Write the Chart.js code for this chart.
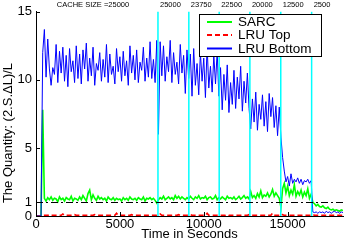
<!DOCTYPE html>
<html>
<head>
<meta charset="utf-8">
<script src="https://cdn.jsdelivr.net/npm/chart.js@4.4.1/dist/chart.umd.min.js"></script>
<style>
    html, body { margin: 0; padding: 0; background: #fff; }
    canvas { display: block; }
</style>
</head>
<body>
<canvas id="quantityChart" width="346" height="243"></canvas>
<script>
// one sample every 100 seconds, starting at t = 0
const sampleStep = 100;

// SARC
const sarc = [
    0, 0, 0, 0, 7.8, 1.3, 1.1, 1.35, 1.2, 1.4,
    1.15, 1.3, 1.25, 1.05, 1.4, 1.2, 1.3, 1.1, 1.35, 1.25,
    1.2, 1.45, 1.1, 1.3, 1.25, 1.15, 1.4, 1.2, 1.5, 1.3,
    1.1, 1.65, 1.9, 1.2, 1.55, 1.3, 1.15, 1.45, 1.25, 1.35,
    1.2, 1.3, 1.1, 1.4, 1.25, 1.2, 1.35, 1.15, 1.3, 1.2,
    1.25, 1.1, 1.35, 1.2, 1.3, 1.15, 1.4, 1.25, 1.2, 1.3,
    1.15, 1.35, 1.25, 1.2, 1.4, 1.1, 1.3, 1.25, 1.35, 1.2,
    1.3, 1.15, 0.95, 1.2, 1.35, 1.25, 1.45, 1.2, 1.3, 1.4,
    1.25, 1.35, 1.2, 1.5, 1.3, 1.45, 1.25, 1.4, 1.3, 1.2,
    1.35, 1.25, 1.45, 1.3, 1.2, 1.4, 1.3, 1.5, 1.25, 1.35,
    1.3, 1.45, 1.2, 1.35, 1.4, 1.25, 1.3, 1.5, 1.2, 1.35,
    1.25, 1.4, 1.3, 1.2, 1.45, 1.3, 1.35, 1.25, 1.4, 1.2,
    1.3, 1.45, 1.25, 1.35, 1.5, 1.3, 1.4, 1.25, 1.8, 1.35,
    1.5, 1.3, 1.65, 1.4, 1.85, 1.35, 1.55, 1.45, 1.7, 1.4,
    1.6, 1.95, 1.45, 1.7, 1.5, 1.3, 0.65, 2.0, 2.4, 1.7,
    2.2, 1.5, 1.9, 1.6, 2.3, 1.45, 1.8, 1.55, 1.9, 1.4,
    1.75, 1.5, 2.0, 1.3, 1.6, 1.0, 0.9, 0.75, 0.85, 0.7,
    0.65, 0.75, 0.6, 0.55, 0.65, 0.5, 0.45, 0.5, 0.4, 0.45,
    0.4, 0.35, 0.45, 0.4
];

// LRU Top
const lruTop = [
    0, 0, 0, 0, 0.05, 0.05, 0.05, 0.05, 0.1, 0.05,
    0.05, 0.05, 0.05, 0.05, 0.05, 0.05, 0.15, 0.05, 0.05, 0.05,
    0.05, 0.05, 0.05, 0.1, 0.05, 0.05, 0.05, 0.05, 0.05, 0.05,
    0.05, 0.05, 0.05, 0.05, 0.05, 0.1, 0.05, 0.05, 0.05, 0.05,
    0.05, 0.05, 0.05, 0.05, 0.05, 0.05, 0.05, 0.05, 0.2, 0.05,
    0.05, 0.05, 0.05, 0.05, 0.05, 0.05, 0.05, 0.1, 0.05, 0.05,
    0.05, 0.05, 0.05, 0.05, 0.05, 0.05, 0.05, 0.05, 0.05, 0.05,
    0.05, 0.05, 0.05, 0.1, 0.15, 0.05, 0.05, 0.05, 0.05, 0.05,
    0.05, 0.05, 0.05, 0.05, 0.05, 0.1, 0.05, 0.05, 0.05, 0.05,
    0.05, 0.05, 0.1, 0.05, 0.05, 0.05, 0.05, 0.05, 0.05, 0.05,
    0.05, 0.05, 0.2, 0.05, 0.05, 0.05, 0.05, 0.05, 0.05, 0.05,
    0.05, 0.05, 0.05, 0.05, 0.1, 0.05, 0.05, 0.05, 0.05, 0.05,
    0.05, 0.05, 0.05, 0.05, 0.05, 0.05, 0.05, 0.1, 0.05, 0.05,
    0.05, 0.05, 0.05, 0.05, 0.05, 0.05, 0.05, 0.05, 0.05, 0.05,
    0.05, 0.2, 0.05, 0.05, 0.05, 0.05, 0.15, 0.1, 0.05, 0.05,
    0.05, 0.05, 0.05, 0.05, 0.05, 0.05, 0.05, 0.05, 0.05, 0.05,
    0.05, 0.05, 0.05, 0.05, 0.05, 0.1, 0.05, 0.05, 0.05, 0.05,
    0.05, 0.05, 0.05, 0.05, 0.05, 0.05, 0.05, 0.05, 0.05, 0.05,
    0.05, 0.05, 0.05, 0.05
];

// LRU Bottom
const lruBottom = [
    0, 0, 0, 0, 12.0, 13.7, 10.2, 13.0, 10.8, 9.6,
    10.9, 10.4, 12.6, 9.8, 12.1, 10.5, 12.4, 9.9, 11.8, 9.5,
    12.3, 10.6, 11.4, 9.8, 12.5, 10.1, 11.9, 9.7, 12.2, 10.8,
    12.7, 9.9, 11.6, 10.3, 12.4, 9.6, 11.2, 10.7, 12.0, 9.9,
    11.5, 10.2, 12.6, 9.8, 11.9, 10.4, 11.0, 9.7, 12.3, 10.6,
    11.7, 9.9, 12.1, 10.3, 11.4, 9.6, 12.5, 10.5, 11.8, 10.0,
    12.2, 9.8, 11.3, 10.7, 12.4, 9.9, 11.6, 10.2, 12.8, 10.1,
    11.5, 9.8, 12.9, 6.0, 12.8, 10.3, 12.5, 9.9, 11.7, 10.6,
    12.9, 9.8, 12.0, 10.4, 11.3, 9.7, 12.6, 10.5, 11.8, 9.0,
    12.2, 10.1, 11.9, 8.8, 12.3, 9.6, 11.2, 8.9, 12.0, 9.9,
    11.6, 8.7, 12.5, 9.4, 11.0, 9.1, 11.8, 9.7, 12.1, 8.8,
    10.9, 7.8, 10.4, 8.5, 11.1, 7.6, 9.8, 8.2, 10.7, 7.9,
    10.2, 8.6, 11.0, 7.7, 9.9, 8.3, 10.5, 7.9, 6.4, 8.6,
    6.9, 9.1, 6.3, 8.2, 7.1, 8.9, 6.6, 8.4, 6.2, 9.0,
    7.3, 8.7, 6.5, 8.1, 5.9, 8.0, 5.8, 4.3, 3.3, 2.5,
    2.9, 2.2, 3.1, 2.4, 2.7, 2.5, 2.8, 2.4, 2.7, 2.3,
    2.6, 2.5, 2.7, 2.4, 2.6, 0.3, 0.25, 0.3, 0.2, 0.3,
    0.25, 0.3, 0.2, 0.35, 0.25, 0.3, 0.2, 0.3, 0.35, 0.25,
    0.3, 0.2, 0.3, 0.25
];

// times where the cache size changes, and the size written above each line
const cacheChangeTimes = [7270, 9110, 10920, 12750, 14590, 16430];
const cacheSizes = ['25000', '23750', '22500', '20000', '12500', '2500'];
const startLabel = 'CACHE SIZE =25000';

const xTicks = [0, 5000, 10000, 15000];
const yTicks = [0, 1, 5, 10, 15];
const threshold = 1;

const FONT = '"Liberation Sans", Arial, Helvetica, sans-serif';

function toPoints(values) {
    return values.map((v, i) => ({ x: i * sampleStep, y: v }));
}

const overlay = {
    id: 'overlay',
    afterDatasetsDraw(chart) {
        const { ctx, chartArea: area, scales: { x, y } } = chart;
        ctx.save();

        // cache size change markers
        ctx.strokeStyle = '#00ffff';
        ctx.lineWidth = 1.5;
        cacheChangeTimes.forEach(t => {
            const px = x.getPixelForValue(t);
            ctx.beginPath();
            ctx.moveTo(px, area.top);
            ctx.lineTo(px, area.bottom);
            ctx.stroke();
        });

        // dash-dot line at 1
        const py = Math.round(y.getPixelForValue(threshold)) + 0.5;
        ctx.strokeStyle = '#000';
        ctx.lineWidth = 1;
        ctx.setLineDash([7, 3, 2, 3]);
        ctx.beginPath();
        ctx.moveTo(area.left, py);
        ctx.lineTo(area.right, py);
        ctx.stroke();
        ctx.setLineDash([]);

        // inward tick marks
        yTicks.forEach(v => {
            const ty = Math.round(y.getPixelForValue(v)) + 0.5;
            ctx.beginPath();
            ctx.moveTo(area.left, ty);
            ctx.lineTo(area.left + 4, ty);
            ctx.stroke();
        });
        xTicks.forEach(v => {
            const tx = Math.round(x.getPixelForValue(v)) + 0.5;
            ctx.beginPath();
            ctx.moveTo(tx, area.bottom);
            ctx.lineTo(tx, area.bottom - 4);
            ctx.stroke();
        });

        ctx.restore();
    },
    afterDraw(chart) {
        const { ctx, scales: { x } } = chart;
        ctx.save();

        // small labels above the plot
        ctx.fillStyle = '#000';
        ctx.font = '7.5px ' + FONT;
        ctx.textBaseline = 'middle';
        ctx.textAlign = 'center';
        ctx.fillText(startLabel, 93, 5);
        ctx.textAlign = 'left';
        cacheChangeTimes.forEach((t, i) => {
            ctx.fillText(cacheSizes[i], x.getPixelForValue(t) + 2, 5);
        });

        // y axis title
        ctx.save();
        ctx.translate(8, 133);
        ctx.rotate(-Math.PI / 2);
        ctx.textAlign = 'center';
        ctx.font = '13px ' + FONT;
        ctx.fillText('The Quantity: (2.S.\u0394L)/L', 0, 0);
        ctx.restore();

        // legend box
        const lx = 199.5, ly = 14.5, lw = 122, lh = 42;
        ctx.fillStyle = '#fff';
        ctx.fillRect(lx, ly, lw, lh);
        ctx.strokeStyle = '#000';
        ctx.lineWidth = 1;
        ctx.strokeRect(lx, ly, lw, lh);
        const rows = [22, 35, 48.5];
        chart.data.datasets.forEach((ds, i) => {
            const ry = rows[i];
            ctx.strokeStyle = ds.borderColor;
            ctx.lineWidth = 2;
            ctx.setLineDash(ds.borderDash || []);
            ctx.beginPath();
            ctx.moveTo(207, ry);
            ctx.lineTo(232, ry);
            ctx.stroke();
            ctx.setLineDash([]);
            ctx.fillStyle = '#000';
            ctx.font = '13.5px ' + FONT;
            ctx.textAlign = 'left';
            ctx.textBaseline = 'middle';
            ctx.fillText(ds.label, 238, ry + 0.5);
        });

        ctx.restore();
    }
};

new Chart(document.getElementById('quantityChart'), {
    type: 'line',
    data: {
        datasets: [
            { label: 'SARC', data: toPoints(sarc), borderColor: '#00ff00', borderWidth: 1.6, order: 3 },
            { label: 'LRU Top', data: toPoints(lruTop), borderColor: '#ff0000', borderWidth: 1.6, borderDash: [5, 3], order: 2 },
            { label: 'LRU Bottom', data: toPoints(lruBottom), borderColor: '#0000ff', borderWidth: 1, order: 1 }
        ]
    },
    options: {
        responsive: false,
        animation: false,
        devicePixelRatio: 1,
        layout: { padding: { top: 10, right: 3, left: 0, bottom: 0 } },
        elements: {
            point: { radius: 0 },
            line: { tension: 0, fill: false }
        },
        plugins: {
            legend: { display: false },
            tooltip: { enabled: false }
        },
        scales: {
            x: {
                type: 'linear',
                min: 0,
                max: 18300,
                afterBuildTicks: s => { s.ticks = xTicks.map(v => ({ value: v })); },
                afterFit: s => { s.height = 27; },
                grid: { display: false, drawTicks: false },
                border: { display: true, color: '#000', width: 1 },
                ticks: {
                    color: '#000',
                    font: { family: FONT, size: 13 },
                    padding: 1,
                    maxRotation: 0,
                    callback: v => String(v)
                },
                title: {
                    display: true,
                    text: 'Time in Seconds',
                    color: '#000',
                    font: { family: FONT, size: 13 },
                    padding: { top: 0, bottom: 1 }
                }
            },
            y: {
                type: 'linear',
                min: 0,
                max: 15,
                afterBuildTicks: s => { s.ticks = yTicks.map(v => ({ value: v })); },
                afterFit: s => { s.width = 36; },
                grid: { display: false, drawTicks: false },
                border: { display: true, color: '#000', width: 1 },
                ticks: { color: '#000', font: { family: FONT, size: 13 }, padding: 4, callback: v => String(v) }
            }
        }
    },
    plugins: [overlay]
});
</script>
</body>
</html>
